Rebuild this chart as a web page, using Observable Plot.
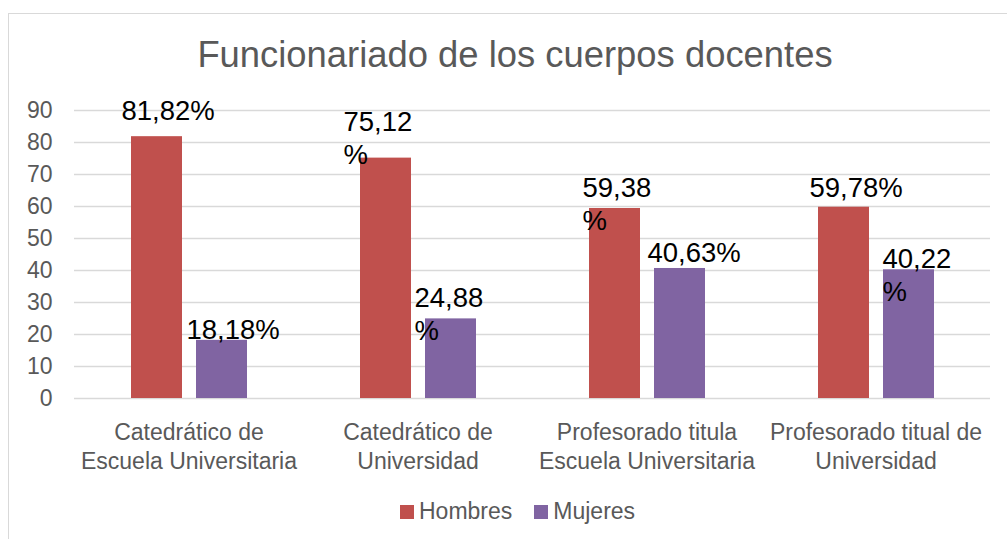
<!DOCTYPE html>
<html>
<head>
<meta charset="utf-8">
<script src="https://cdn.jsdelivr.net/npm/d3@7"></script>
<script src="https://cdn.jsdelivr.net/npm/@observablehq/plot@0.6"></script>
<style>
  html, body { margin: 0; padding: 0; background: #fff; overflow: hidden; width: 1007px; height: 539px; }
  body { position: relative; font-family: "Liberation Sans", Arial, sans-serif; }
  #frame { position: absolute; left: 8px; top: 13px; width: 1100px; height: 600px; border: 1px solid #d9d9d9; box-sizing: border-box; }
  #title { position: absolute; left: 0; top: 36.5px; width: 1030px; text-align: center; font-size: 36.4px; line-height: 36px; color: #595959; white-space: nowrap; }
  #chart { position: absolute; left: 0; top: 90px; }
  #legend { position: absolute; left: 400px; top: 500px; display: flex; align-items: center; font-size: 23px; line-height: 23px; color: #595959; }
  .item { display: flex; align-items: center; margin-right: 22px; }
  .sw { width: 14px; height: 14px; margin-right: 5px; }
</style>
</head>
<body>
<div id="frame"></div>
<div id="title"></div>
<div id="chart"></div>
<div id="legend"></div>
<script>
// ---- data ----
const titleText = "Funcionariado de los cuerpos docentes";
const categories = [
  "Catedrático de\nEscuela Universitaria",
  "Catedrático de\nUniversidad",
  "Profesorado titula\nEscuela Universitaria",
  "Profesorado titual de\nUniversidad"
];
const series = ["Hombres", "Mujeres"];
const hombres = [81.82, 75.12, 59.38, 59.78];
const mujeres = [18.18, 24.88, 40.63, 40.22];
const hombresLabels = ["81,82%", "75,12\n%", "59,38\n%", "59,78%"];
const mujeresLabels = ["18,18%", "24,88\n%", "40,63%", "40,22\n%"];
const yTicks = [0, 10, 20, 30, 40, 50, 60, 70, 80, 90];

// ---- styling ----
const colors = ["#C0504D", "#8064A2"];
// hand placement of data labels (pixel nudges from bar-centre / bar-top), as in the reference
const labelNudge = {
  Hombres: [[-35.5, -17], [-42.5, 5.5], [-32.5, 22], [-34.5, -10]],
  Mujeres: [[-35.5, -1], [-36.5, 21.5], [-32.5, -6], [-26.5, 31]]
};

document.getElementById("title").textContent = titleText;

const values = {Hombres: hombres, Mujeres: mujeres};
const labels = {Hombres: hombresLabels, Mujeres: mujeresLabels};
const rows = [];
categories.forEach((cat, i) => {
  series.forEach(s => {
    rows.push({cat, sexo: s, value: values[s][i], label: labels[s][i], nudge: labelNudge[s][i]});
  });
});

const labelMarks = rows.map(r => Plot.text([r], {
  fx: "cat", x: "sexo", y: "value", text: "label",
  textAnchor: "start", lineAnchor: "bottom", lineHeight: 1.2,
  dx: r.nudge[0], dy: r.nudge[1],
  fontSize: 27.5, fill: "#000"
}));

const chart = Plot.plot({
  width: 1007,
  height: 390,
  marginLeft: 74,
  marginRight: 17,
  marginTop: 20,
  marginBottom: 82,
  style: {fontFamily: "'Liberation Sans', Arial, sans-serif", fontSize: "23px", color: "#595959", background: "transparent", overflow: "visible"},
  fx: {domain: categories, padding: 0, axis: null},
  x: {domain: series, paddingInner: 0.2154, paddingOuter: 0.8692, axis: null},
  y: {domain: [0, 90]},
  color: {domain: series, range: colors},
  marks: [
    Plot.gridY(yTicks, {stroke: "#d9d9d9", strokeOpacity: 1, strokeWidth: 1.3}),
    Plot.axisY(yTicks, {tickSize: 0, tickPadding: 22, fontSize: 23, fill: "#595959", label: null}),
    Plot.barY(rows, {fx: "cat", x: "sexo", y: "value", fill: "sexo"}),
    Plot.text(categories, {fx: d => d, text: d => d, frameAnchor: "bottom", lineAnchor: "top", lineHeight: 1.26, dy: 20.5, fontSize: 23, fill: "#595959"}),
    ...labelMarks
  ]
});
document.getElementById("chart").appendChild(chart);

const legend = document.getElementById("legend");
series.forEach((s, i) => {
  const item = document.createElement("div");
  item.className = "item";
  const sw = document.createElement("span");
  sw.className = "sw";
  sw.style.background = colors[i];
  const t = document.createElement("span");
  t.textContent = s;
  item.appendChild(sw);
  item.appendChild(t);
  legend.appendChild(item);
});
</script>
</body>
</html>
